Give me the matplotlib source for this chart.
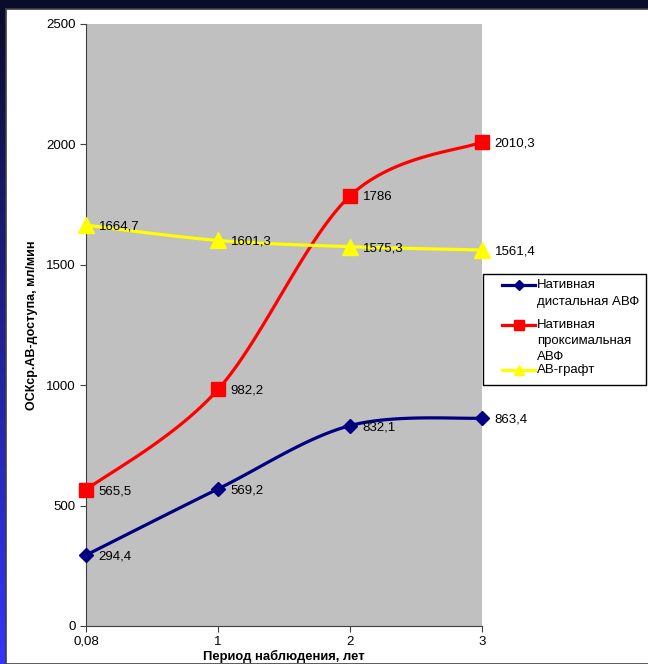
import numpy as np
import matplotlib.pyplot as plt
from matplotlib.patches import Rectangle
from matplotlib.lines import Line2D

plt.rcParams['font.family'] = ['Liberation Sans', 'DejaVu Sans']

periods = ['0,08', '1', '2', '3']
distal = [294.4, 569.2, 832.1, 863.4]
proximal = [565.5, 982.2, 1786, 2010.3]
graft = [1664.7, 1601.3, 1575.3, 1561.4]

series = [
    ('Нативная\nдистальная АВФ', distal, '#000080', 'D', 7.5),
    ('Нативная\nпроксимальная\nАВФ', proximal, '#ff0000', 's', 9.5),
    ('АВ-графт', graft, '#ffff00', '^', 11),
]


def smooth(x, y, n=40):
    # catmull-rom curve through the points, like excel's smoothed lines
    p = np.column_stack([x, y]).astype(float)
    p = np.vstack([p[0], p, p[-1]])
    out = []
    for i in range(1, len(p) - 2):
        p0, p1, p2, p3 = p[i - 1], p[i], p[i + 1], p[i + 2]
        t = np.linspace(0, 1, n)[:, None]
        c = 0.5 * ((2 * p1) + (-p0 + p2) * t + (2 * p0 - 5 * p1 + 4 * p2 - p3) * t ** 2
                   + (-p0 + 3 * p1 - 3 * p2 + p3) * t ** 3)
        out.append(c)
    c = np.vstack(out)
    return c[:, 0], c[:, 1]


W, H = 648, 664
fig = plt.figure(figsize=(W / 100, H / 100), dpi=100)
fig.patch.set_facecolor('#0a0c2a')

# blue gradient strip on the left
grad = fig.add_axes([0, 0, 6 / W, 1])
grad.imshow(np.linspace(0, 1, 256)[:, None], aspect='auto', origin='upper',
            cmap=plt.matplotlib.colors.LinearSegmentedColormap.from_list('g', ['#0a0c2a', '#3535ff']))
grad.axis('off')

panel = fig.add_axes([6 / W, 0, 1, 1 - 9 / H])
panel.set_facecolor('white')
panel.set_xticks([])
panel.set_yticks([])
for s in panel.spines.values():
    s.set_color('#404040')
    s.set_linewidth(1.2)

ax = fig.add_axes([86 / W, 1 - 626 / H, (482 - 86) / W, (626 - 24) / H])
ax.set_facecolor('#c0c0c0')
x = np.arange(len(periods))
for name, vals, col, mk, ms in series:
    sx, sy = smooth(x, vals)
    ax.plot(sx, sy, color=col, linewidth=2.3, zorder=3)
    ax.plot(x, vals, linestyle='none', marker=mk, color=col, markersize=ms, zorder=4,
            clip_on=False)
    for xi, v in zip(x, vals):
        lbl = ('%g' % v).replace('.', ',')
        ax.annotate(lbl, (xi, v), xytext=(9, -1), textcoords='offset points',
                    va='center', ha='left', fontsize=9.5, zorder=5)

ax.set_xlim(0, 3)
ax.set_ylim(0, 2500)
ax.set_xticks(x)
ax.set_xticklabels(periods, fontsize=9.5)
ax.set_yticks(np.arange(0, 2501, 500))
ax.tick_params(axis='y', labelsize=9.5, direction='out', length=4, color='#404040')
ax.tick_params(axis='x', direction='out', length=4, color='#404040', pad=3)
for s in ['top', 'right']:
    ax.spines[s].set_visible(False)
ax.spines['left'].set_color('#404040')
ax.spines['bottom'].set_color('#404040')
ax.set_ylabel('ОСКср.АВ-доступа, мл/мин', fontsize=9, fontweight='bold', labelpad=6)
ax.set_xlabel('Период наблюдения, лет', fontsize=9.4, fontweight='bold')
ax.xaxis.set_label_coords(0.5, (626 - 650) / 602)

# legend box drawn by hand so the marker sits on the first line of each entry
fig.patches.append(Rectangle((483 / W, 1 - 385 / H), (646 - 483) / W, (385 - 274) / H,
                             transform=fig.transFigure, facecolor='white',
                             edgecolor='black', linewidth=1.0, zorder=5))
rows = [(285, [285, 302]), (325, [325, 341, 357]), (370, [370])]
for (name, vals, col, mk, ms), (hy, ty) in zip(series, rows):
    fig.add_artist(Line2D([502 / W, 535 / W], [1 - hy / H] * 2, transform=fig.transFigure,
                          color=col, linewidth=2.3, zorder=6))
    fig.add_artist(Line2D([518.5 / W], [1 - hy / H], transform=fig.transFigure, color=col,
                          marker=mk, markersize=ms * 0.7, zorder=7))
    for line, yy in zip(name.split('\n'), ty):
        fig.text(537 / W, 1 - yy / H, line, fontsize=9.5, va='center', ha='left', zorder=7)

fig.savefig('out.png', dpi=100, facecolor=fig.get_facecolor())
